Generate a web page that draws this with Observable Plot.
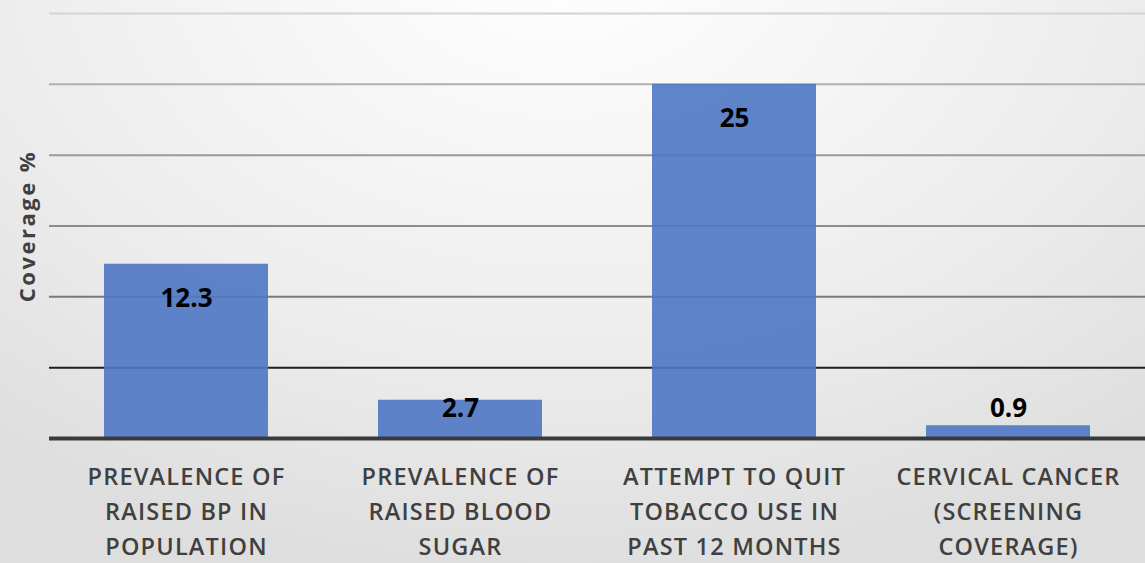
<!DOCTYPE html>
<html>
<head>
<meta charset="utf-8">
<script src="https://cdn.jsdelivr.net/npm/d3@7"></script>
<script src="https://cdn.jsdelivr.net/npm/@observablehq/plot@0.6"></script>
<style>
  html, body { margin: 0; padding: 0; }
  body {
    width: 1145px; height: 563px; overflow: hidden;
    background: radial-gradient(ellipse 900px 620px at 560px -40px, #ffffff 0%, #f5f5f5 35%, #ececec 65%, #dedede 100%);
  }
  #chart svg { display: block; background: transparent; }
  #chart g[aria-label="x-axis tick label"] text { letter-spacing: 1.2px; }
  #chart g.ylabel text { letter-spacing: 2.5px; }
</style>
</head>
<body>
<div id="chart"></div>
<script>
const categories = [
  "PREVALENCE OF\nRAISED BP IN\nPOPULATION",
  "PREVALENCE OF\nRAISED BLOOD\nSUGAR",
  "ATTEMPT TO QUIT\nTOBACCO USE IN\nPAST 12 MONTHS",
  "CERVICAL CANCER\n(SCREENING\nCOVERAGE)"
];
const values = [12.3, 2.7, 25, 0.9];
const labels = ["12.3", "2.7", "25", "0.9"];
const gridValues = [5, 10, 15, 20, 25, 30];
const yLabel = "Coverage %";

const data = categories.map((c, i) => ({category: c, value: values[i], label: labels[i]}));
const gridColor = {5: "#1e1e1e", 10: "#7a7a7a", 15: "#8c8c8c", 20: "#9a9a9a", 25: "#b0b0b0", 30: "#d4d4d4"};

const chart = Plot.plot({
  width: 1145,
  height: 563,
  marginTop: 13,
  marginBottom: 125,
  marginLeft: 49,
  marginRight: 0,
  style: {fontFamily: "'Open Sans', Lato, sans-serif", background: "transparent"},
  x: {domain: categories, paddingInner: 0.4, paddingOuter: 0.2, label: null},
  y: {domain: [0, 30], axis: null},
  marks: [
    Plot.ruleY(gridValues, {stroke: d => gridColor[d], strokeWidth: 2}),
    Plot.barY(data, {x: "category", y: "value", fill: "#4f77c4", fillOpacity: 0.9}),
    Plot.ruleY([0], {stroke: "#3a3a3a", strokeWidth: 4}),
    Plot.text(data, {
      x: "category",
      y: d => Math.max(d.value - 2.4, 2.1),
      text: "label",
      fontSize: 26,
      fontWeight: "bold",
      fill: "#000"
    }),
    Plot.axisX({
      tickSize: 0,
      tickPadding: 22,
      fontSize: 23.5,
      lineHeight: 1.49,
      fill: "#404040",
      fontWeight: 600,
      label: null
    }),
    Plot.text([yLabel], {
      frameAnchor: "left",
      textAnchor: "middle",
      rotate: -90,
      dx: -22,
      fontSize: 22,
      fontWeight: "bold",
      fill: "#404040",
      className: "ylabel"
    })
  ]
});
document.getElementById("chart").append(chart);
</script>
</body>
</html>
